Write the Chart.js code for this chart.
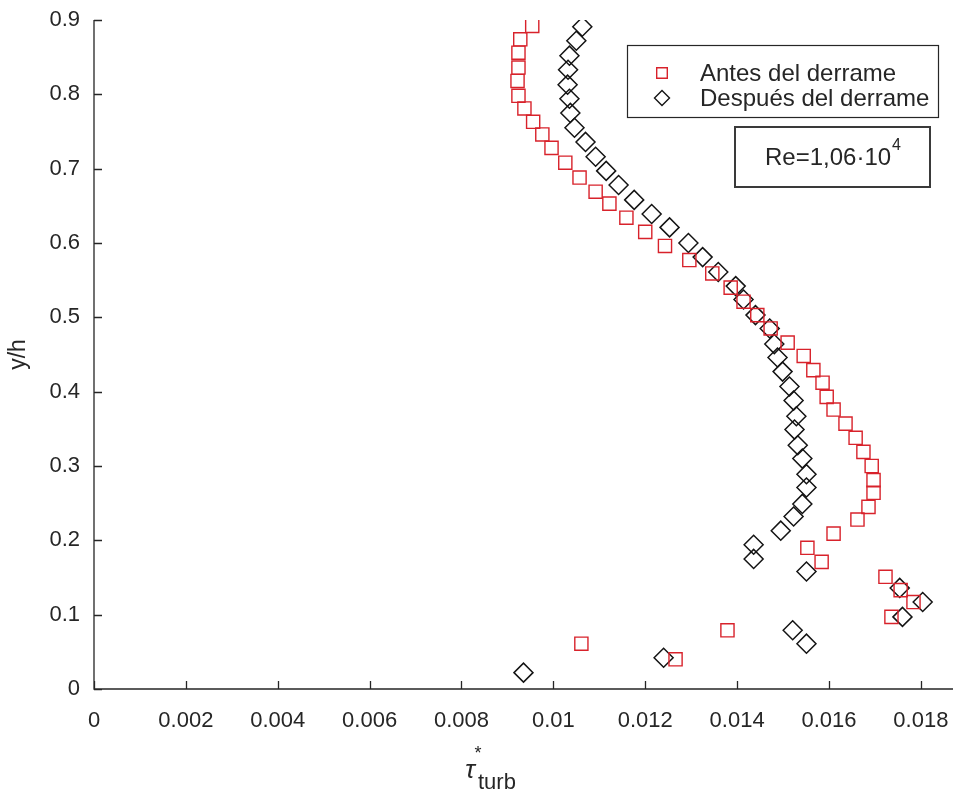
<!DOCTYPE html>
<html>
<head>
<meta charset="utf-8">
<script src="https://cdn.jsdelivr.net/npm/chart.js@4.4.0/dist/chart.umd.min.js"></script>
<style>
  body { margin: 0; background: #fff; }
  #wrap { width: 953px; height: 796px; }
</style>
</head>
<body>
<div id="wrap"><canvas id="chart" width="953" height="796"></canvas></div>
<script>
// Values (tau*_turb vs y/h)
const antesX = [0.00954, 0.00928, 0.00924, 0.00924, 0.00922, 0.00924, 0.00937, 0.00956, 0.00976, 0.00996,
  0.01026, 0.01057, 0.01092, 0.01122, 0.01159, 0.01200, 0.01243, 0.01296, 0.01346, 0.01386,
  0.01414, 0.01444, 0.01473, 0.01510, 0.01545, 0.01566, 0.01586, 0.01595, 0.01610, 0.01636,
  0.01658, 0.01675, 0.01693, 0.01697, 0.01697, 0.01686, 0.01662, 0.01610, 0.01553, 0.01584,
  0.01723, 0.01756, 0.01784, 0.01736, 0.01379, 0.01061, 0.01266];
const antesY = [0.892, 0.874, 0.856, 0.836, 0.818, 0.798, 0.781, 0.763, 0.746, 0.728,
  0.708, 0.688, 0.669, 0.653, 0.634, 0.615, 0.596, 0.577, 0.559, 0.540,
  0.521, 0.503, 0.485, 0.466, 0.448, 0.429, 0.412, 0.393, 0.376, 0.357,
  0.338, 0.319, 0.300, 0.281, 0.264, 0.245, 0.228, 0.209, 0.190, 0.171,
  0.151, 0.133, 0.117, 0.097, 0.079, 0.061, 0.040];

const despuesX = [0.01063, 0.01050, 0.01035, 0.01032, 0.01031, 0.01035, 0.01037, 0.01046, 0.01070, 0.01092,
  0.01115, 0.01142, 0.01176, 0.01214, 0.01253, 0.01294, 0.01325, 0.01359, 0.01397, 0.01414,
  0.01440, 0.01471, 0.01481, 0.01488, 0.01499, 0.01514, 0.01523, 0.01529, 0.01525, 0.01532,
  0.01542, 0.01551, 0.01551, 0.01542, 0.01523, 0.01495, 0.01436, 0.01436, 0.01551, 0.01754,
  0.01804, 0.01760, 0.01521, 0.01551, 0.01240, 0.00935];
const despuesY = [0.891, 0.872, 0.852, 0.833, 0.813, 0.794, 0.775, 0.755, 0.736, 0.716,
  0.697, 0.678, 0.658, 0.639, 0.621, 0.600, 0.581, 0.561, 0.542, 0.524,
  0.503, 0.485, 0.464, 0.446, 0.427, 0.407, 0.388, 0.367, 0.349, 0.328,
  0.310, 0.289, 0.271, 0.249, 0.232, 0.213, 0.194, 0.175, 0.158, 0.136,
  0.117, 0.097, 0.079, 0.061, 0.042, 0.022];

const xTicks = [0, 0.002, 0.004, 0.006, 0.008, 0.01, 0.012, 0.014, 0.016, 0.018];
const yTicks = [0, 0.1, 0.2, 0.3, 0.4, 0.5, 0.6, 0.7, 0.8, 0.9];
const seriesLabels = ['Antes del derrame', 'Después del derrame'];
const reText = 'Re=1,06\u00b710';
const reExp = '4';

const axisColor = '#262626';
const redColor = '#d8222b';
const blackColor = '#141414';
const fontFamily = '"Liberation Sans", Arial, Helvetica, sans-serif';

function toPoints(xs, ys) {
  return xs.map((x, i) => ({ x: x, y: ys[i] }));
}

// legend marker, same shapes as the chart points
function drawMarker(ctx, style, x, y, r, color) {
  ctx.save();
  ctx.strokeStyle = color;
  ctx.lineWidth = 1.4;
  ctx.beginPath();
  if (style === 'rect') {
    const s = r * Math.SQRT1_2;
    ctx.rect(x - s, y - s, 2 * s, 2 * s);
  } else {
    ctx.moveTo(x, y - r);
    ctx.lineTo(x + r, y);
    ctx.lineTo(x, y + r);
    ctx.lineTo(x - r, y);
    ctx.closePath();
  }
  ctx.stroke();
  ctx.restore();
}

const decorPlugin = {
  id: 'decor',
  beforeDatasetsDraw(chart) {
    const ctx = chart.ctx;
    const area = chart.chartArea;
    const xs = chart.scales.x;
    const ys = chart.scales.y;
    ctx.save();
    ctx.strokeStyle = axisColor;
    ctx.lineWidth = 1.3;
    ctx.beginPath();
    ctx.moveTo(area.left, area.top);
    ctx.lineTo(area.left, area.bottom);
    ctx.lineTo(area.right, area.bottom);
    // ticks point inward
    xTicks.forEach(v => {
      const px = Math.round(xs.getPixelForValue(v)) + 0.5;
      ctx.moveTo(px, area.bottom);
      ctx.lineTo(px, area.bottom - 8);
    });
    yTicks.forEach(v => {
      const py = Math.round(ys.getPixelForValue(v)) + 0.5;
      ctx.moveTo(area.left, py);
      ctx.lineTo(area.left + 8, py);
    });
    ctx.stroke();
    ctx.restore();
  },
  afterDraw(chart) {
    const ctx = chart.ctx;
    const area = chart.chartArea;
    ctx.save();

    // legend box
    const lx = area.right - 326, ly = area.top + 25, lw = 311, lh = 72;
    ctx.fillStyle = '#fff';
    ctx.fillRect(lx, ly, lw, lh);
    ctx.strokeStyle = axisColor;
    ctx.lineWidth = 1.2;
    ctx.strokeRect(lx + 0.5, ly + 0.5, lw, lh);
    ctx.font = '24px ' + fontFamily;
    ctx.fillStyle = axisColor;
    ctx.textBaseline = 'middle';
    ctx.textAlign = 'left';
    chart.data.datasets.forEach((ds, i) => {
      const rowY = ly + 28 + i * 25;
      drawMarker(ctx, ds.pointStyle, lx + 35, rowY, 7.5, ds.borderColor);
      ctx.fillText(ds.label, lx + 73, rowY + 1);
    });

    // Reynolds number box
    const bx = area.right - 218, by = area.top + 107, bw = 195, bh = 60;
    ctx.fillStyle = '#fff';
    ctx.fillRect(bx, by, bw, bh);
    ctx.strokeStyle = '#3a3a3a';
    ctx.lineWidth = 2;
    ctx.strokeRect(bx, by, bw, bh);
    ctx.fillStyle = axisColor;
    ctx.font = '24px ' + fontFamily;
    const mainW = ctx.measureText(reText).width;
    ctx.font = '16px ' + fontFamily;
    const expW = ctx.measureText(reExp).width;
    const startX = bx + (bw - mainW - expW) / 2;
    ctx.font = '24px ' + fontFamily;
    ctx.fillText(reText, startX, by + bh / 2 + 1);
    ctx.font = '16px ' + fontFamily;
    ctx.fillText(reExp, startX + mainW + 1, by + bh / 2 - 11);

    // x axis title: tau*_turb
    ctx.fillStyle = axisColor;
    ctx.font = 'italic 26px ' + fontFamily;
    ctx.textAlign = 'center';
    ctx.fillText('\u03c4', 470, 771);
    ctx.font = '18px ' + fontFamily;
    ctx.fillText('*', 478, 754);
    ctx.textAlign = 'left';
    ctx.font = '22px ' + fontFamily;
    ctx.fillText('turb', 478, 783);
    ctx.restore();
  }
};

const chart = new Chart(document.getElementById('chart'), {
  type: 'scatter',
  data: {
    datasets: [
      {
        label: seriesLabels[0],
        data: toPoints(antesX, antesY),
        pointStyle: 'rect',
        pointRadius: 9.3,
        pointHoverRadius: 9.3,
        borderColor: redColor,
        backgroundColor: 'rgba(0,0,0,0)',
        borderWidth: 1.4
      },
      {
        label: seriesLabels[1],
        data: toPoints(despuesX, despuesY),
        pointStyle: 'rectRot',
        pointRadius: 9.5,
        pointHoverRadius: 9.5,
        borderColor: blackColor,
        backgroundColor: 'rgba(0,0,0,0)',
        borderWidth: 1.5
      }
    ]
  },
  options: {
    responsive: false,
    animation: false,
    layout: { autoPadding: false, padding: { top: 20, right: 0, bottom: 0, left: 0 } },
    plugins: {
      legend: { display: false },
      tooltip: { enabled: false }
    },
    scales: {
      x: {
        type: 'linear',
        min: 0,
        max: 0.0187,
        grid: { display: false },
        border: { display: false },
        afterBuildTicks: scale => { scale.ticks = xTicks.map(v => ({ value: v })); },
        afterFit: scale => {
          scale.height = 107;
          scale.paddingLeft = 0;
          scale.paddingRight = 0;
        },
        ticks: {
          color: axisColor,
          padding: 11,
          font: { size: 22, family: fontFamily },
          maxRotation: 0,
          callback: v => String(+v.toFixed(4))
        }
      },
      y: {
        type: 'linear',
        min: 0,
        max: 0.9,
        grid: { display: false },
        border: { display: false },
        afterBuildTicks: scale => { scale.ticks = yTicks.map(v => ({ value: v })); },
        afterFit: scale => {
          scale.width = 94;
          scale.paddingTop = 0;
          scale.paddingBottom = 0;
        },
        title: {
          display: true,
          text: 'y/h',
          color: axisColor,
          font: { size: 23, family: fontFamily },
          padding: { top: 5, bottom: 0 }
        },
        ticks: {
          color: axisColor,
          padding: 6,
          font: { size: 22, family: fontFamily },
          callback: v => String(+v.toFixed(1))
        }
      }
    }
  },
  plugins: [decorPlugin]
});
</script>
</body>
</html>
